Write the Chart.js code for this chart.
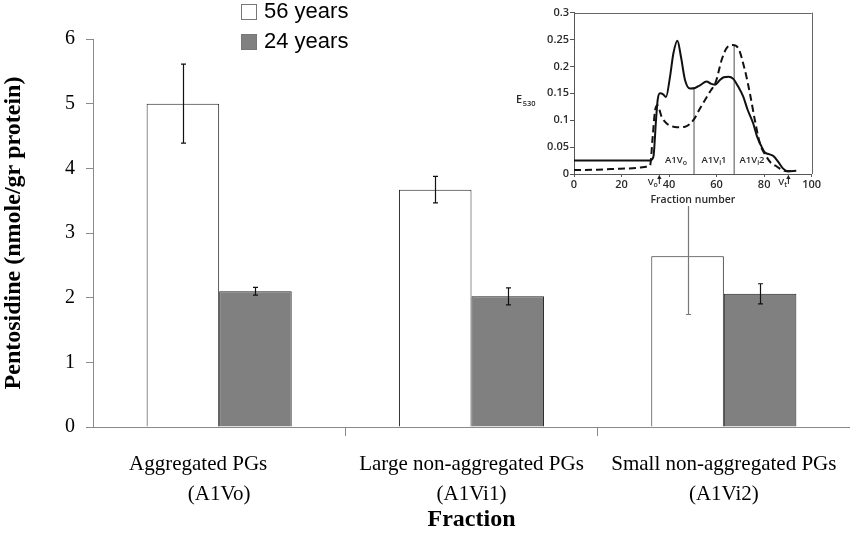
<!DOCTYPE html>
<html><head><meta charset="utf-8">
<script src="https://cdn.jsdelivr.net/npm/chart.js@4.4.1/dist/chart.umd.min.js"></script>
<style>
html,body{margin:0;padding:0;background:#fff;}
#wrap{position:relative;width:850px;height:533px;overflow:hidden;background:#fff;}
#main{position:absolute;left:0;top:0;}
#inset{position:absolute;left:490px;top:0;background:#fff;}
.li{position:absolute;left:241px;height:22px;white-space:nowrap;font-family:"Liberation Sans",Arial,sans-serif;font-size:22px;line-height:22px;color:#000;}
.li .bx{position:absolute;left:0;top:4px;width:14px;height:14px;border:1px solid #777;box-sizing:content-box;}
.li .tx{position:absolute;left:23px;top:0;}
</style>
</head><body>
<div id="wrap">
<canvas id="main" width="850" height="533"></canvas>
<div id="legend"></div>
<canvas id="inset" width="360" height="206"></canvas>
</div>
<script>
// ---------- main chart data ----------
const categories = [
  ["Aggregated PGs\u00a0\u00a0\u00a0\u00a0\u00a0\u00a0\u00a0\u00a0", "(A1Vo)"],
  ["Large non-aggregated PGs", "(A1Vi1)"],
  ["Small non-aggregated PGs", "(A1Vi2)"]
];
const seriesNames = ["56 years", "24 years"];
const values56 = [5.00, 3.67, 2.64];
const errors56 = [0.61, 0.205, 0.90];
const values24 = [2.10, 2.02, 2.06];
const errors24 = [0.06, 0.13, 0.155];
const yTicks = [0, 1, 2, 3, 4, 5, 6];

// ---------- inset data ----------
const insetXTicks = [0, 20, 40, 60, 80, 100];
const insetYTicks = [0, 0.05, 0.1, 0.15, 0.2, 0.25, 0.3];
const solidX = [0, 10, 20, 30, 32, 33.4, 34.5, 35.2, 36.2, 37.5, 38.7, 40.4, 41.8, 43.5, 45, 46.7, 48.8, 50.9, 53, 55.8, 57.5, 59.3, 61.4, 63, 65, 67, 69, 71.2, 73, 75.4, 77, 79, 80.3, 82, 84, 86, 88, 90, 93.5];
const solidY = [0.025, 0.025, 0.025, 0.025, 0.025, 0.032, 0.1, 0.138, 0.15, 0.148, 0.143, 0.181, 0.224, 0.248, 0.218, 0.175, 0.159, 0.16, 0.165, 0.172, 0.168, 0.166, 0.175, 0.18, 0.181, 0.177, 0.163, 0.144, 0.12, 0.094, 0.07, 0.05, 0.04, 0.037, 0.033, 0.022, 0.01, 0.005, 0.006];
const dashX = [0, 10, 19.4, 26, 30.6, 32, 33.1, 34.1, 35.1, 36.9, 39, 41, 43.2, 46.7, 50.2, 53, 57.2, 59.7, 62.1, 64.2, 66.8, 69.1, 71.9, 74, 76.1, 78.2, 81, 83, 85.3, 87, 89.5, 92];
const dashY = [0.0075, 0.008, 0.0099, 0.011, 0.0136, 0.016, 0.069, 0.118, 0.128, 0.106, 0.094, 0.089, 0.087, 0.088, 0.1, 0.122, 0.153, 0.172, 0.212, 0.234, 0.24, 0.234, 0.193, 0.15, 0.1, 0.057, 0.032, 0.02, 0.014, 0.009, 0.005, 0.006];
const dividerX = [50.5, 67.4];
const dividerTop = [0.158, 0.24];
const regionX = [42.9, 58.9, 74.9];
const regionY = [0.025, 0.025, 0.025];
const regionMain = ["A1V", "A1V", "A1V"];
const regionSub = ["o", "i", "i"];
const regionTail = ["", "1", "2"];
const markerX = [35.9, 90.2];
const markerSub = ["o", "t"];

// ---------- legend (HTML) ----------
const legendFills = ["#ffffff", "#808080"];
const legendEl = document.getElementById('legend');
seriesNames.forEach((n, i) => {
  const d = document.createElement('div');
  d.className = 'li';
  d.style.top = (i * 30) + 'px';
  d.innerHTML = '<span class="bx" style="background:' + legendFills[i] + '"></span><span class="tx"></span>';
  d.querySelector('.tx').textContent = n;
  legendEl.appendChild(d);
});

// ---------- error bars plugin ----------
const errorBars = {
  id: 'errorBars',
  afterDatasetsDraw(chart) {
    const ctx = chart.ctx, y = chart.scales.y;
    chart.data.datasets.forEach((ds, di) => {
      const meta = chart.getDatasetMeta(di);
      meta.data.forEach((bar, i) => {
        const v = ds.data[i], e = ds.errors[i];
        const yt = y.getPixelForValue(v + e), yb = y.getPixelForValue(v - e);
        const x = Math.round(bar.x) + 0.5;
        ctx.save();
        ctx.strokeStyle = ds.errorColor[i];
        ctx.lineWidth = 1.2;
        ctx.beginPath();
        ctx.moveTo(x, yt); ctx.lineTo(x, yb);
        ctx.moveTo(x - 2.5, yt); ctx.lineTo(x + 2.5, yt);
        ctx.moveTo(x - 2.5, yb); ctx.lineTo(x + 2.5, yb);
        ctx.stroke();
        ctx.restore();
      });
    });
  }
};

const serif = '"Liberation Serif", "Times New Roman", serif';
const axisGray = '#8a8a8a';

new Chart(document.getElementById('main'), {
  type: 'bar',
  data: {
    labels: categories,
    datasets: [
      { label: seriesNames[0], data: values56, errors: errors56, errorColor: ['#111', '#111', '#777'],
        backgroundColor: legendFills[0], borderColor: '#222', borderWidth: 1,
        categoryPercentage: 0.575, barPercentage: 1.0 },
      { label: seriesNames[1], data: values24, errors: errors24, errorColor: ['#111', '#111', '#111'],
        backgroundColor: legendFills[1], borderColor: '#222', borderWidth: 1,
        categoryPercentage: 0.575, barPercentage: 1.0 }
    ]
  },
  options: {
    responsive: false, animation: false, devicePixelRatio: 1,
    layout: { padding: { left: 0, top: 39, right: 0, bottom: 0 } },
    plugins: { legend: { display: false }, tooltip: { enabled: false } },
    scales: {
      x: {
        grid: { display: true, drawOnChartArea: false, drawTicks: true, tickLength: 9,
                color: (c) => (c.index === 1 || c.index === 2) ? axisGray : 'rgba(0,0,0,0)' },
        border: { display: true, color: axisGray, width: 1 },
        ticks: { color: '#000', font: { family: serif, size: 21, lineHeight: 1.43 }, padding: 13,
                 maxRotation: 0, autoSkip: false },
        title: { display: true, text: 'Fraction', color: '#000',
                 font: { family: serif, size: 24, weight: 'bold', lineHeight: 1 }, padding: { top: 0, bottom: 1 } },
        afterFit(s) { s.height = 106; }
      },
      y: {
        min: 0, max: 6,
        afterBuildTicks(s) { s.ticks = yTicks.map(v => ({ value: v })); },
        ticks: { color: '#000', font: { family: serif, size: 20 }, padding: 11 },
        grid: { drawOnChartArea: false, tickLength: 7, color: axisGray },
        border: { display: true, color: axisGray, width: 1 },
        title: { display: true, text: 'Pentosidine (nmole/gr protein)', color: '#000',
                 font: { family: serif, size: 24, weight: 'bold', lineHeight: 1 }, padding: { top: 2, bottom: 0 } },
        afterFit(s) { s.width = 93; }
      }
    }
  },
  plugins: [errorBars]
});

// ---------- inset ----------
const sans = '"Open Sans", "Noto Sans", sans-serif';
const insetText = '#2a2a2a';
const insetDecor = {
  id: 'insetDecor',
  afterDraw(chart) {
    const ctx = chart.ctx, xs = chart.scales.x, ys = chart.scales.y, a = chart.chartArea;
    ctx.save();
    // frame top and right
    ctx.strokeStyle = '#666'; ctx.lineWidth = 1;
    ctx.beginPath();
    ctx.moveTo(a.left, Math.round(a.top) + 0.5); ctx.lineTo(a.right, Math.round(a.top) + 0.5);
    ctx.moveTo(Math.round(a.right) + 0.5, a.top); ctx.lineTo(Math.round(a.right) + 0.5, a.bottom);
    ctx.stroke();
    ctx.fillStyle = insetText;
    ctx.textBaseline = 'middle';
    // y label E530
    const ly = (a.top + a.bottom) / 2 + 7;
    ctx.textAlign = 'left';
    ctx.font = '600 11px ' + sans;
    ctx.fillText('E', 26, ly);
    const ew = ctx.measureText('E').width;
    ctx.font = '600 7.5px ' + sans;
    ctx.fillText('530', 26 + ew + 0.5, ly + 4);
    // region labels
    regionX.forEach((xv, i) => {
      const px = xs.getPixelForValue(xv), py = ys.getPixelForValue(regionY[i]);
      ctx.font = '600 9.5px ' + sans;
      const w1 = ctx.measureText(regionMain[i]).width;
      const w3 = ctx.measureText(regionTail[i]).width;
      ctx.font = '600 7px ' + sans;
      const w2 = ctx.measureText(regionSub[i]).width;
      let x0 = px - (w1 + w2 + w3) / 2;
      ctx.font = '600 9.5px ' + sans;
      ctx.fillText(regionMain[i], x0, py);
      ctx.font = '600 7px ' + sans;
      ctx.fillText(regionSub[i], x0 + w1, py + 2.5);
      ctx.font = '600 9.5px ' + sans;
      ctx.fillText(regionTail[i], x0 + w1 + w2, py);
    });
    // V markers with arrows
    markerX.forEach((xv, i) => {
      const px = xs.getPixelForValue(xv), base = ys.getPixelForValue(0);
      ctx.strokeStyle = '#222'; ctx.lineWidth = 1;
      ctx.beginPath();
      ctx.moveTo(px, base + 10); ctx.lineTo(px, base + 1.5);
      ctx.stroke();
      ctx.beginPath();
      ctx.moveTo(px, base + 1); ctx.lineTo(px - 2.2, base + 5); ctx.lineTo(px + 2.2, base + 5); ctx.closePath();
      ctx.fillStyle = '#222'; ctx.fill();
      ctx.fillStyle = insetText;
      ctx.font = '600 7px ' + sans;
      const ws = ctx.measureText(markerSub[i]).width;
      ctx.font = '600 9.5px ' + sans;
      const wv = ctx.measureText('V').width;
      const x0 = px - 1.5 - ws - wv;
      ctx.fillText('V', x0, base + 8);
      ctx.font = '600 7px ' + sans;
      ctx.fillText(markerSub[i], x0 + wv, base + 10.5);
    });
    ctx.restore();
  }
};

const toPts = (xa, ya) => xa.map((x, i) => ({ x: x, y: ya[i] }));
const dividerSets = dividerX.map((xv, i) => ({
  data: [{ x: xv, y: 0 }, { x: xv, y: dividerTop[i] }],
  borderColor: '#8a8a8a', borderWidth: 1.5, pointRadius: 0, order: 3
}));

new Chart(document.getElementById('inset'), {
  type: 'line',
  data: {
    datasets: [
      { label: 'solid', data: toPts(solidX, solidY), borderColor: '#111', borderWidth: 2,
        pointRadius: 0, cubicInterpolationMode: 'monotone', order: 1 },
      { label: 'dashed', data: toPts(dashX, dashY), borderColor: '#111', borderWidth: 2,
        borderDash: [7, 4], pointRadius: 0, cubicInterpolationMode: 'monotone', order: 2 },
      ...dividerSets
    ]
  },
  options: {
    responsive: false, animation: false, devicePixelRatio: 1,
    layout: { padding: { left: 0, top: 12.7, right: 38.3, bottom: 0 } },
    plugins: { legend: { display: false }, tooltip: { enabled: false } },
    scales: {
      x: {
        type: 'linear', min: 0, max: 100,
        afterBuildTicks(s) { s.ticks = insetXTicks.map(v => ({ value: v })); },
        ticks: { color: insetText, font: { family: sans, size: 11, weight: '600' }, padding: 1.5,
                 callback: v => String(v), maxRotation: 0 },
        grid: { drawOnChartArea: false, tickLength: 3, color: '#555' },
        border: { display: true, color: '#555', width: 1 },
        title: { display: true, text: 'Fraction number', color: insetText,
                 font: { family: sans, size: 10.5, weight: '600', lineHeight: 1.2 }, padding: { top: 0, bottom: 0 } },
        afterFit(s) { s.height = 32; }
      },
      y: {
        min: 0, max: 0.3,
        afterBuildTicks(s) { s.ticks = insetYTicks.map(v => ({ value: v })); },
        ticks: { color: insetText, font: { family: sans, size: 11, weight: '600' }, padding: 1,
                 callback: v => String(v) },
        grid: { drawOnChartArea: false, tickLength: 4, color: '#555' },
        border: { display: true, color: '#555', width: 1 },
        afterFit(s) { s.width = 84; }
      }
    }
  },
  plugins: [insetDecor]
});
</script>
</body></html>
